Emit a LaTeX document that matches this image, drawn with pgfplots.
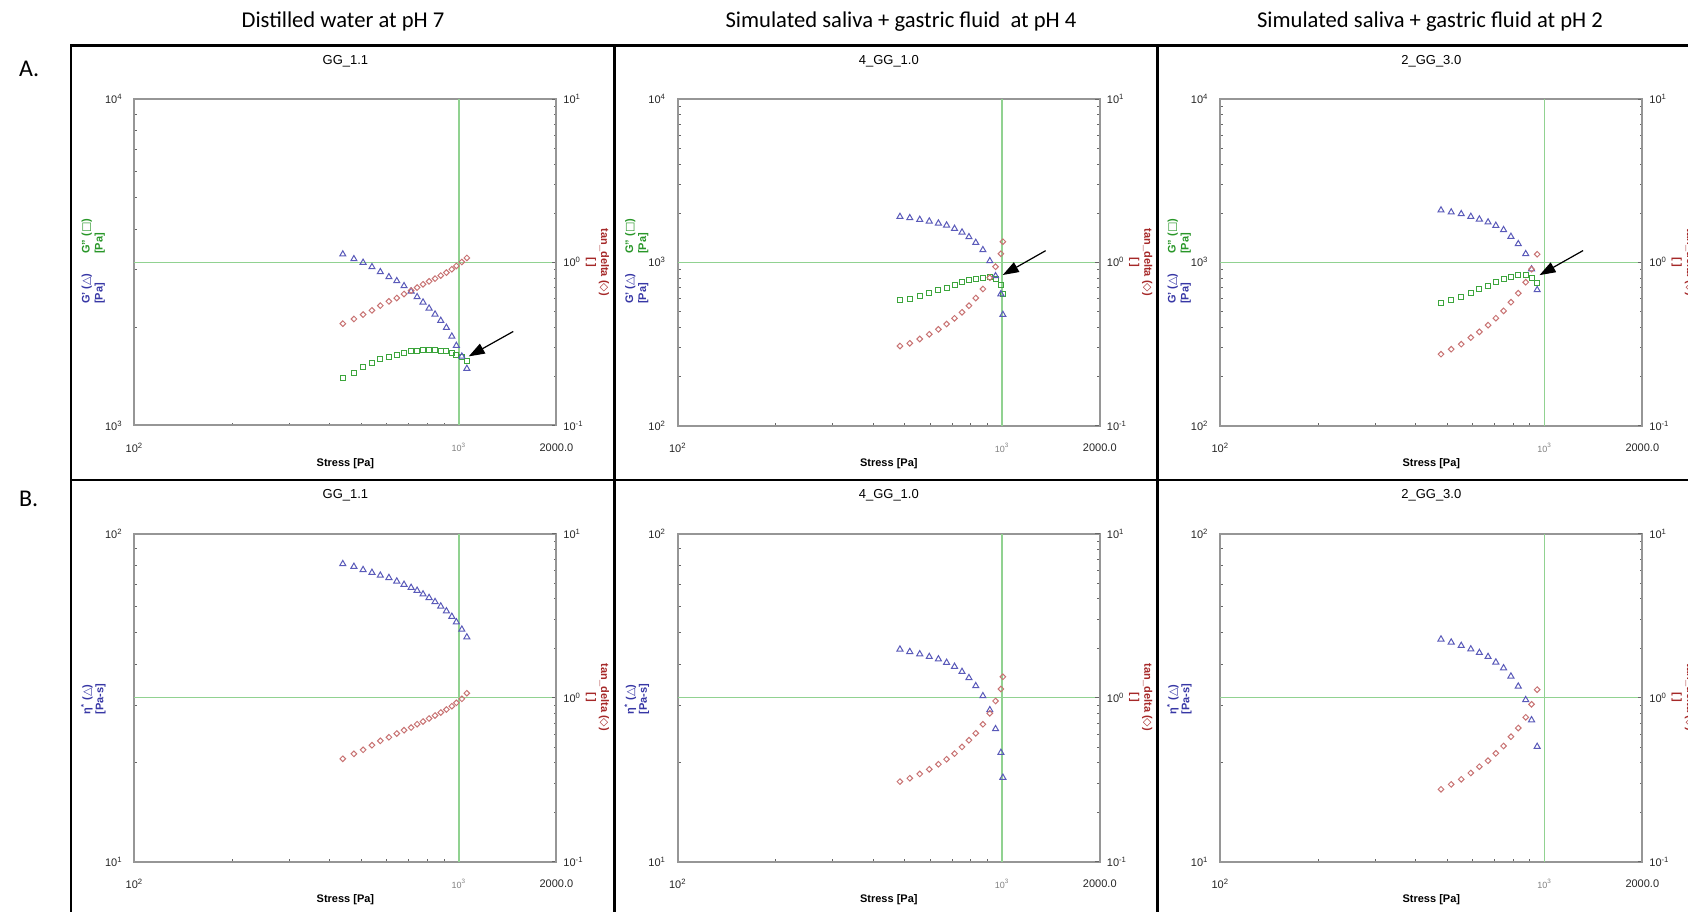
\documentclass[border=0pt]{standalone}
\usepackage{fontspec}
\setmainfont{Liberation Sans}
\newfontfamily\calibri{Carlito}
\newfontfamily\sym{DejaVu Sans}
\usepackage{pgfplots}
\pgfplotsset{compat=1.18}
\usepackage{pgfplotstable}
\usetikzlibrary{arrows.meta}

\definecolor{mblue}{RGB}{90,90,185}
\definecolor{lblue}{RGB}{55,55,165}
\definecolor{mgreen}{RGB}{60,165,60}
\definecolor{lgreen}{RGB}{40,150,40}
\definecolor{guide}{RGB}{145,210,145}
\definecolor{mred}{RGB}{200,115,115}
\definecolor{lred}{RGB}{165,40,40}
\definecolor{axgray}{RGB}{150,150,150}

\newcommand\tk{\fontsize{5.5}{6.5}\selectfont}
\newcommand\lb{\fontsize{5.5}{6.5}\selectfont\bfseries}
\newcommand\ttl{\fontsize{6.5}{7.5}\selectfont}
\newcommand\sq[1]{10\textsuperscript{#1}}

\pgfplotstableread{
x Gp Gpp tan
439 3346 1401 0.4206
475 3236 1447 0.4490
507 3155 1509 0.4778
540 3059 1553 0.5074
573 2953 1594 0.5424
609 2850 1620 0.5763
644 2771 1648 0.6039
678 2675 1671 0.6390
713 2576 1687 0.6704
744 2475 1695 0.6997
776 2384 1699 0.7328
810 2285 1699 0.7645
845 2190 1699 0.7943
880 2095 1695 0.8287
916 1994 1687 0.8646
952 1875 1671 0.9060
983 1756 1640 0.9491
1022 1628 1620 1.004
1059 1493 1572 1.063
}\Aone
\pgfplotstableread{
x Gp Gpp tan
484 1901 585 0.3069
519 1867 598 0.3189
557 1823 619 0.3388
596 1782 645 0.3620
636 1732 673 0.3885
674 1684 698 0.4185
713 1606 725 0.4535
752 1526 754 0.4937
790 1428 779 0.5418
829 1318 793 0.6039
872 1189 804 0.6858
916 1018 809 0.8042
954 824 790 0.9391
991 639 722 1.128
1005 477 642 1.336
}\Atwo
\pgfplotstableread{
x Gp Gpp tan
479 2083 562 0.2736
515 2025 588 0.2935
553 1977 616 0.3149
592 1903 647 0.3457
629 1834 684 0.3746
669 1759 717 0.4117
707 1677 755 0.4543
747 1578 791 0.5037
787 1436 817 0.5693
829 1295 837 0.6463
874 1125 837 0.7548
911 907 805 0.9068
948 677 751 1.120
}\Athree
\pgfplotstableread{
x eta tan
439 80.8 0.4229
475 79.3 0.4535
507 77.5 0.4800
540 76.0 0.5119
573 74.5 0.5445
609 73.3 0.5726
644 71.5 0.6032
678 69.9 0.6318
713 68.4 0.6562
744 67.0 0.6874
776 65.3 0.7140
810 63.7 0.7447
845 61.9 0.7766
880 60.0 0.8100
916 58.0 0.8449
952 55.8 0.8851
983 53.7 0.9284
1022 51.0 0.9820
1059 48.3 1.062
}\Bone
\pgfplotstableread{
x eta tan
484 44.35 0.3071
519 43.6 0.3219
557 42.9 0.3420
596 42.1 0.3652
636 41.4 0.3918
674 40.4 0.4204
713 39.3 0.4547
752 37.9 0.4998
790 36.3 0.5489
829 34.3 0.6053
872 31.96 0.6869
916 28.97 0.8013
954 25.36 0.9521
991 21.47 1.127
1005 18.03 1.338
}\Btwo
\pgfplotstableread{
x eta tan
479 47.6 0.2755
515 46.6 0.2955
553 45.5 0.3171
592 44.4 0.3464
629 43.3 0.3785
669 42.1 0.4117
707 40.5 0.4569
747 38.9 0.5061
787 36.7 0.5768
829 34.2 0.6516
874 31.1 0.7573
911 27.0 0.9090
948 22.4 1.116
}\Bthree

\pgfplotsset{
  scale only axis, width=211pt, xmin=100, xmax=2000,
  tick align=inside, major tick length=2.2pt, minor tick length=1.4pt,
  every tick/.style={draw=black!60, line width=0.35pt},
  ticklabel style={font=\tk, text=black!85},
  clip=false,
  xtick={100,1000,2000},
  xticklabels={\sq{2},{\color{black!50}\fontsize{4.5}{5}\selectfont\sq{3}},2000.0},
  minor xtick={200,300,400,500,600,700,800,900},
  xticklabel shift=5.5pt,
}
\pgfplotsset{
  mygrayax/.style={axis line style={draw=axgray, line width=1pt}},
  myrightticks/.style={mygrayax, ymin=0.1, ymax=10, ytick={0.1,1,10}, yticklabels={\sq{-1},\sq{0},\sq{1}},
    minor ytick={0.2,0.3,0.4,0.5,0.6,0.7,0.8,0.9,2,3,4,5,6,7,8,9}},
  myrowAa/.style={mygrayax, height=163.25pt, ymin=1000, ymax=10000, ytick={1000,10000},
    yticklabels={\sq{3},\sq{4}}, minor ytick={2000,3000,4000,5000,6000,7000,8000,9000}},
  myrowAb/.style={mygrayax, height=163.25pt, ymin=100, ymax=10000, ytick={100,1000,10000},
    yticklabels={\sq{2},\sq{3},\sq{4}},
    minor ytick={200,300,400,500,600,700,800,900,2000,3000,4000,5000,6000,7000,8000,9000}},
  myrowB/.style={mygrayax, height=164pt, ymin=10, ymax=100, ytick={10,100},
    yticklabels={\sq{1},\sq{2}}, minor ytick={20,30,40,50,60,70,80,90}},
  mytri/.style={only marks, mark=triangle, mark size=1.75pt, mark options={draw=mblue, line width=0.5pt, fill=none}},
  mysqr/.style={only marks, mark=square, mark size=1.25pt, mark options={draw=mgreen, line width=0.5pt, fill=none}},
  mydia/.style={only marks, mark=square, mark size=1pt, mark options={rotate=45, draw=mred, line width=0.5pt, fill=none}},
  mygl/.style={draw=guide, line width=0.75pt, mark=none},
}
\tikzset{myarr/.style={-{Triangle[length=8pt,width=5.5pt]}, line width=0.6pt, draw=black, fill=black}}

\newcommand\GLabels{%
  \node[rotate=90, align=left, font=\lb, text=lblue] at (axis description cs:-0.0972,0.4188) {G' ({\sym △})\\{}[Pa]};
  \node[rotate=90, align=left, font=\lb, text=lgreen] at (axis description cs:-0.0972,0.5796) {G" ({\sym □})\\{}[Pa]};
}
\newcommand\EtaLabel{%
  \node[rotate=90, align=left, font=\lb, text=lblue] at (axis description cs:-0.0972,0.495) {η\textsuperscript{*} ({\sym △})\\{}[Pa-s]};
}
\newcommand\TanLabel{%
  \node[rotate=-90, align=center, font=\lb, text=lred] at (axis description cs:1.0972,0.5) {tan\_delta ({\sym ◇})\\{}[\,]};
}
\newcommand\Stress{%
  \node[font=\lb, yshift=-19pt] at (axis description cs:0.5,0) {Stress [Pa]};
}

\begin{document}
\begin{tikzpicture}
\useasboundingbox (0,0) rectangle (844pt,-455.5pt);
\clip (0,0) rectangle (844pt,-455.5pt);

% frames
\draw[line width=1.4pt] (35.5pt,-22.75pt) rectangle (850.5pt,-457pt);
\draw[line width=1.4pt] (307.25pt,-22.75pt) -- (307.25pt,-457pt);
\draw[line width=1.4pt] (578.75pt,-22.75pt) -- (578.75pt,-457pt);
\draw[line width=1.4pt] (35.5pt,-240pt) -- (850.5pt,-240pt);

% column titles
\node[font=\calibri\fontsize{11.3}{13}\selectfont, anchor=base] at (171.5pt,-13.5pt) {Distilled water at pH 7};
\node[font=\calibri\fontsize{11.3}{13}\selectfont, anchor=base] at (450.5pt,-13.5pt) {Simulated saliva + gastric fluid\ \ at pH 4};
\node[font=\calibri\fontsize{11.3}{13}\selectfont, anchor=base] at (715pt,-13.5pt) {Simulated saliva + gastric fluid at pH 2};
\node[font=\calibri\fontsize{12}{14}\selectfont, anchor=base west] at (6pt,-38pt) {A.};
\node[font=\calibri\fontsize{12}{14}\selectfont, anchor=base west] at (6pt,-253pt) {B.};

% ---------- Row A, panel 1 ----------
\begin{axis}[xmode=log, ymode=log, tick pos=left, yticklabel shift=2.4pt, myrowAa, at={(67.2pt,-212.75pt)}, anchor=south west]
\addplot[mygl] coordinates {(1000,1000) (1000,10000)};
\addplot[mygl] coordinates {(100,3162.28) (2000,3162.28)};
\addplot[mysqr] table[x=x,y=Gpp] {\Aone};
\addplot[mytri] table[x=x,y=Gp] {\Aone};
\draw[myarr] (axis cs:1472,1941) -- (axis cs:1073,1628);
\node[font=\ttl, yshift=19pt] at (axis description cs:0.5,1) {GG\_1.1};
\Stress
\GLabels
\end{axis}
\begin{axis}[xmode=log, ymode=log, axis y line*=right, axis x line=none, myrightticks, height=163.25pt, at={(67.2pt,-212.75pt)}, anchor=south west]
\addplot[mydia] table[x=x,y=tan] {\Aone};
\TanLabel
\end{axis}

% ---------- Row A, panel 2 ----------
\begin{axis}[xmode=log, ymode=log, tick pos=left, yticklabel shift=2.4pt, myrowAb, at={(338.9pt,-212.75pt)}, anchor=south west]
\addplot[mygl] coordinates {(1000,100) (1000,10000)};
\addplot[mygl] coordinates {(100,1000) (2000,1000)};
\addplot[mysqr] table[x=x,y=Gpp] {\Atwo};
\addplot[mytri] table[x=x,y=Gp] {\Atwo};
\draw[myarr] (axis cs:1361,1177) -- (axis cs:1004,835.5);
\node[font=\ttl, yshift=19pt] at (axis description cs:0.5,1) {4\_GG\_1.0};
\Stress
\GLabels
\end{axis}
\begin{axis}[xmode=log, ymode=log, axis y line*=right, axis x line=none, myrightticks, height=163.25pt, at={(338.9pt,-212.75pt)}, anchor=south west]
\addplot[mydia] table[x=x,y=tan] {\Atwo};
\TanLabel
\end{axis}

% ---------- Row A, panel 3 ----------
\begin{axis}[xmode=log, ymode=log, tick pos=left, yticklabel shift=2.4pt, myrowAb, at={(610.15pt,-212.75pt)}, anchor=south west]
\addplot[mygl] coordinates {(1000,100) (1000,10000)};
\addplot[mygl] coordinates {(100,1000) (2000,1000)};
\addplot[mysqr] table[x=x,y=Gpp] {\Athree};
\addplot[mytri] table[x=x,y=Gp] {\Athree};
\draw[myarr] (axis cs:1313,1179) -- (axis cs:964,834);
\node[font=\ttl, yshift=19pt] at (axis description cs:0.5,1) {2\_GG\_3.0};
\Stress
\GLabels
\end{axis}
\begin{axis}[xmode=log, ymode=log, axis y line*=right, axis x line=none, myrightticks, height=163.25pt, at={(610.15pt,-212.75pt)}, anchor=south west]
\addplot[mydia] table[x=x,y=tan] {\Athree};
\TanLabel
\end{axis}

% ---------- Row B, panel 1 ----------
\begin{axis}[xmode=log, ymode=log, tick pos=left, yticklabel shift=2.4pt, myrowB, at={(67.2pt,-430.75pt)}, anchor=south west]
\addplot[mygl] coordinates {(1000,10) (1000,100)};
\addplot[mygl] coordinates {(100,31.6228) (2000,31.6228)};
\addplot[mytri] table[x=x,y=eta] {\Bone};
\node[font=\ttl, yshift=19pt] at (axis description cs:0.5,1) {GG\_1.1};
\Stress
\EtaLabel
\end{axis}
\begin{axis}[xmode=log, ymode=log, axis y line*=right, axis x line=none, myrightticks, height=164pt, at={(67.2pt,-430.75pt)}, anchor=south west]
\addplot[mydia] table[x=x,y=tan] {\Bone};
\TanLabel
\end{axis}

% ---------- Row B, panel 2 ----------
\begin{axis}[xmode=log, ymode=log, tick pos=left, yticklabel shift=2.4pt, myrowB, at={(338.9pt,-430.75pt)}, anchor=south west]
\addplot[mygl] coordinates {(1000,10) (1000,100)};
\addplot[mygl] coordinates {(100,31.6228) (2000,31.6228)};
\addplot[mytri] table[x=x,y=eta] {\Btwo};
\node[font=\ttl, yshift=19pt] at (axis description cs:0.5,1) {4\_GG\_1.0};
\Stress
\EtaLabel
\end{axis}
\begin{axis}[xmode=log, ymode=log, axis y line*=right, axis x line=none, myrightticks, height=164pt, at={(338.9pt,-430.75pt)}, anchor=south west]
\addplot[mydia] table[x=x,y=tan] {\Btwo};
\TanLabel
\end{axis}

% ---------- Row B, panel 3 ----------
\begin{axis}[xmode=log, ymode=log, tick pos=left, yticklabel shift=2.4pt, myrowB, at={(610.15pt,-430.75pt)}, anchor=south west]
\addplot[mygl] coordinates {(1000,10) (1000,100)};
\addplot[mygl] coordinates {(100,31.6228) (2000,31.6228)};
\addplot[mytri] table[x=x,y=eta] {\Bthree};
\node[font=\ttl, yshift=19pt] at (axis description cs:0.5,1) {2\_GG\_3.0};
\Stress
\EtaLabel
\end{axis}
\begin{axis}[xmode=log, ymode=log, axis y line*=right, axis x line=none, myrightticks, height=164pt, at={(610.15pt,-430.75pt)}, anchor=south west]
\addplot[mydia] table[x=x,y=tan] {\Bthree};
\TanLabel
\end{axis}
\end{tikzpicture}
\end{document}
